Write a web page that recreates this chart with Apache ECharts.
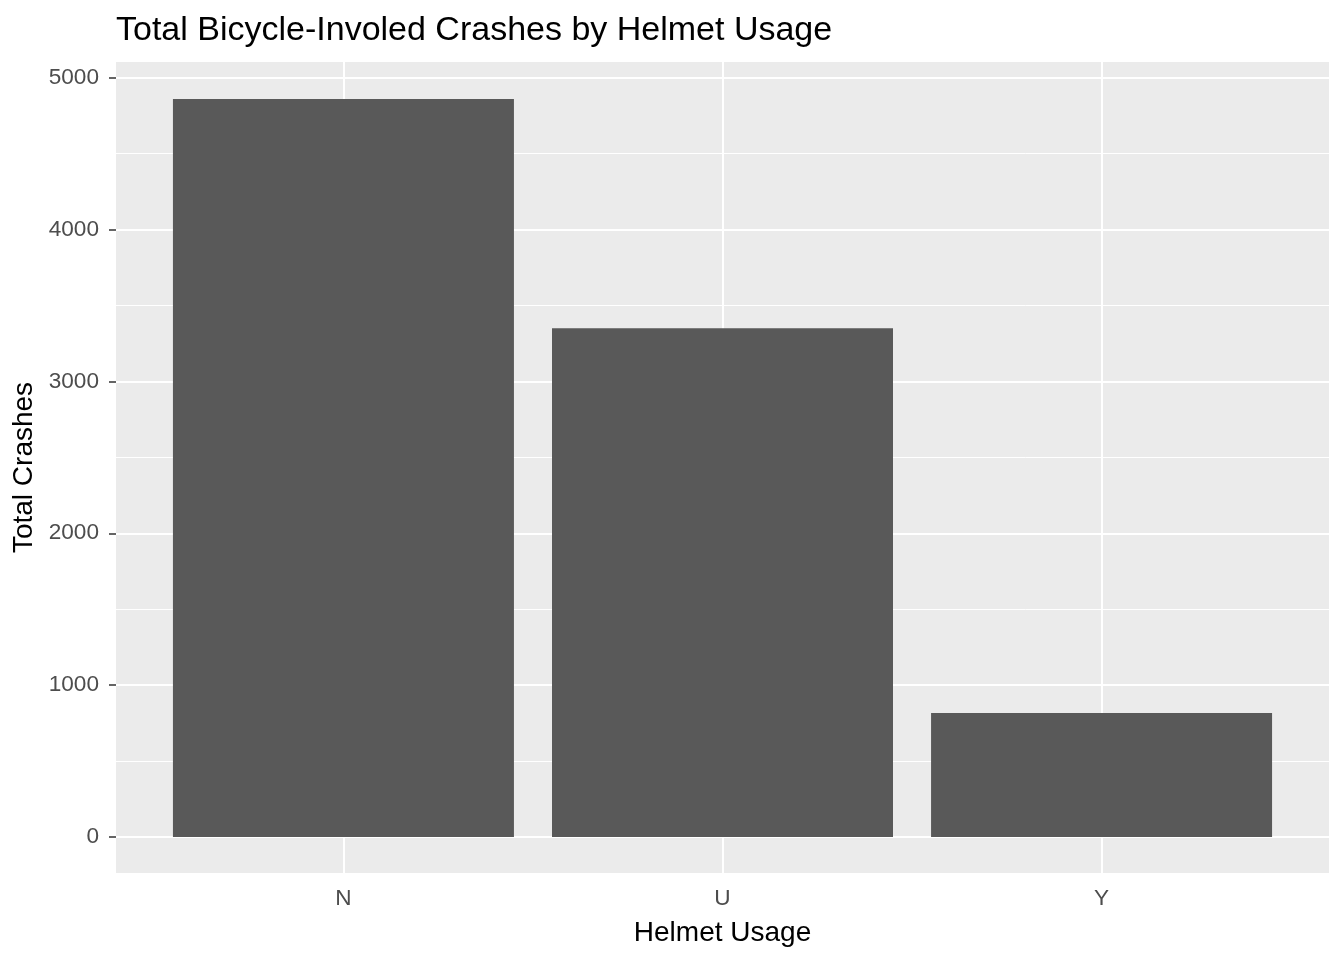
<!DOCTYPE html>
<html>
<head>
<meta charset="utf-8">
<script src="https://cdn.jsdelivr.net/npm/echarts@6/dist/echarts.min.js"></script>
<style>
html,body{margin:0;padding:0;background:#fff;}
#chart{width:1344px;height:960px;}
</style>
</head>
<body>
<div id="chart"></div>
<script>
const categories = ['N', 'U', 'Y'];
const crashes = [4860, 3350, 816];
const yTicks = [0, 1000, 2000, 3000, 4000, 5000];
const yMinor = [500, 1500, 2500, 3500, 4500];
const xPositions = [1, 2, 3];

const FONT = '"Liberation Sans", Arial, sans-serif';
const chart = echarts.init(document.getElementById('chart'));

const barData = crashes.map((v, i) => [xPositions[i], v]);

const option = {
  animation: false,
  backgroundColor: '#ffffff',
  title: {
    text: 'Total Bicycle-Involed Crashes by Helmet Usage',
    left: 111,
    top: 9,
    textStyle: { fontFamily: FONT, fontSize: 34, fontWeight: 'normal', color: '#000000' }
  },
  grid: {
    left: 116, right: 15, top: 62, bottom: 87,
    outerBoundsMode: 'none',
    containLabel: false,
    show: true, backgroundColor: '#EBEBEB', borderWidth: 0
  },
  xAxis: {
    type: 'value',
    min: 0.4,
    max: 3.6,
    name: 'Helmet Usage',
    nameLocation: 'middle',
    nameGap: 46,
    nameTextStyle: { fontFamily: FONT, fontSize: 28, color: '#000000' },
    axisLine: { show: false },
    splitLine: { show: false },
    axisTick: { show: true, customValues: xPositions, length: 7, lineStyle: { color: '#333333', width: 1.5 } },
    axisLabel: {
      customValues: xPositions,
      margin: 14,
      fontFamily: FONT, fontSize: 22.6, color: '#4D4D4D',
      formatter: v => categories[Math.round(v) - 1]
    }
  },
  yAxis: {
    type: 'value',
    min: -237,
    max: 5103,
    name: 'Total Crashes',
    nameLocation: 'middle',
    nameRotate: 90,
    nameGap: 68,
    nameTextStyle: { fontFamily: FONT, fontSize: 28, color: '#000000' },
    axisLine: { show: false },
    splitLine: { show: false },
    axisTick: { show: true, customValues: yTicks, length: 7, lineStyle: { color: '#333333', width: 1.5 } },
    axisLabel: {
      customValues: yTicks,
      margin: 17,
      fontFamily: FONT, fontSize: 22.6, color: '#4D4D4D',
      formatter: v => String(Math.round(v))
    }
  },
  series: [
    {
      type: 'scatter',
      z: 1,
      symbolSize: 0,
      silent: true,
      data: [[1, 0]],
      markLine: {
        z: 1,
        silent: true,
        symbol: ['none', 'none'],
        label: { show: false },
        animation: false,
        data: [
          ...yMinor.map(v => ({ yAxis: v, lineStyle: { color: '#ffffff', width: 1, type: 'solid' } })),
          ...yTicks.map(v => ({ yAxis: v, lineStyle: { color: '#ffffff', width: 2, type: 'solid' } })),
          ...xPositions.map(v => ({ xAxis: v, lineStyle: { color: '#ffffff', width: 2, type: 'solid' } }))
        ]
      }
    },
    {
      type: 'bar',
      z: 3,
      barWidth: 341,
      itemStyle: { color: '#595959' },
      data: barData
    }
  ]
};
chart.setOption(option);
</script>
</body>
</html>
